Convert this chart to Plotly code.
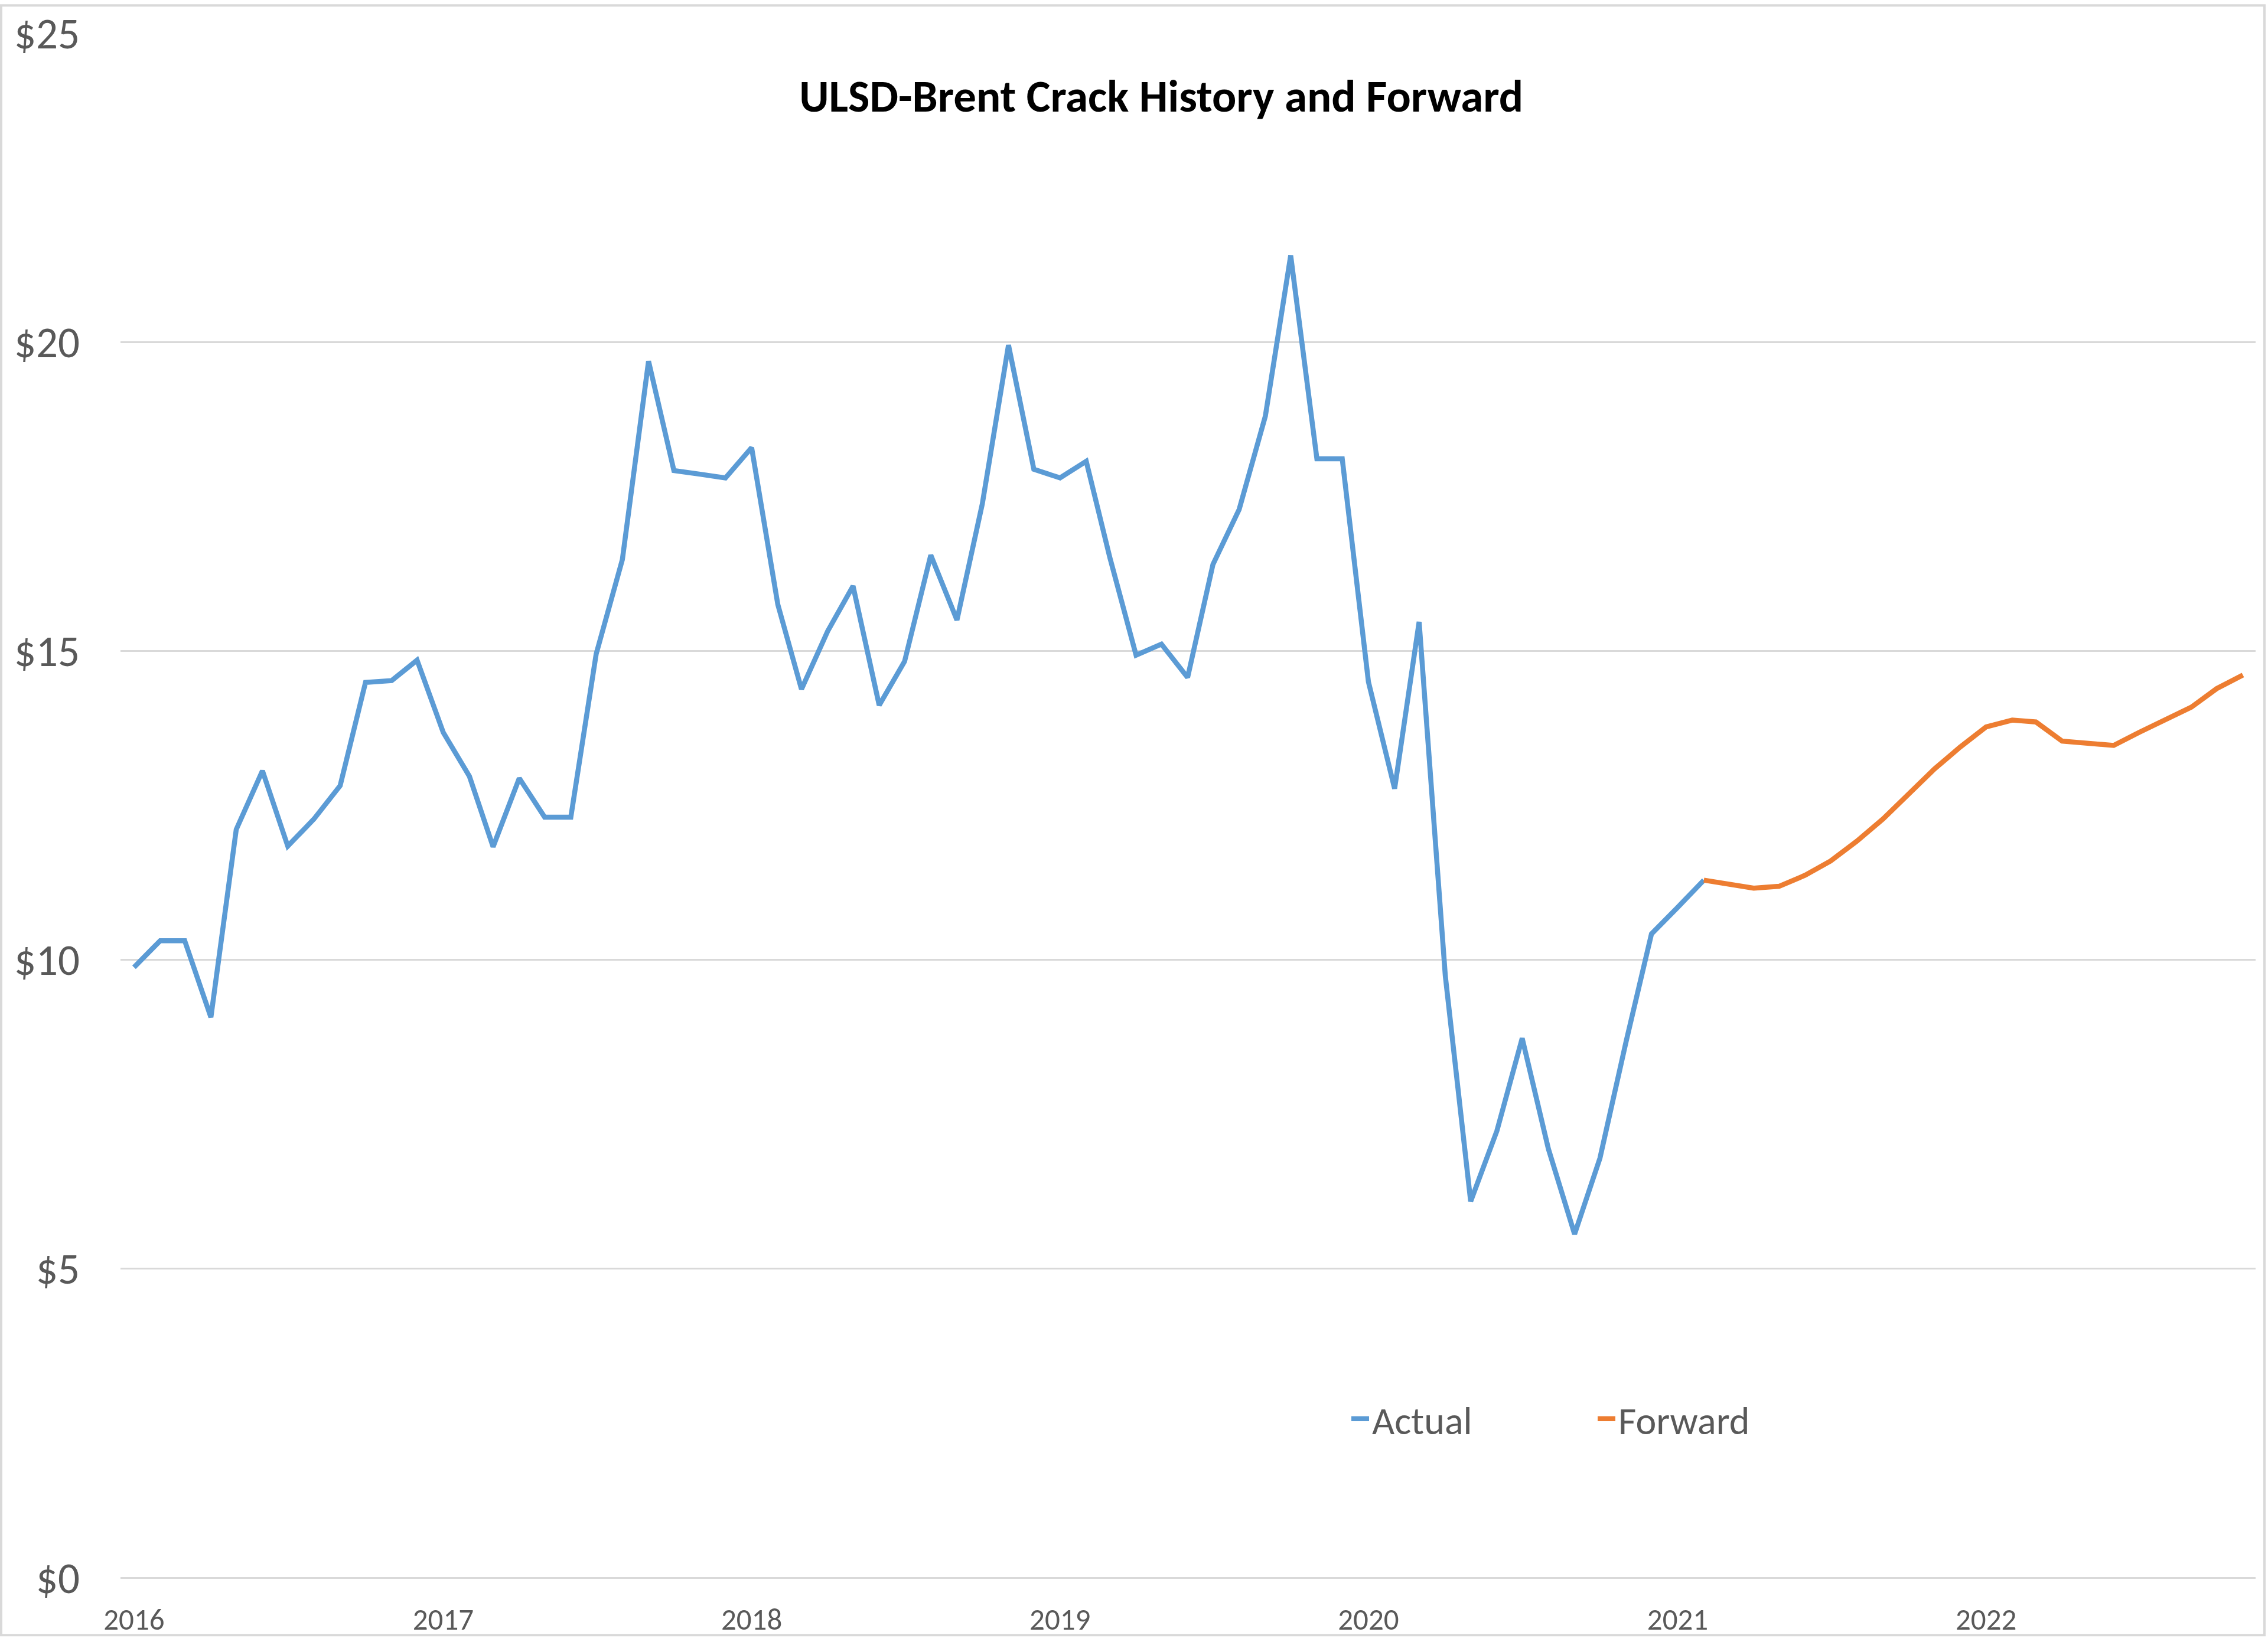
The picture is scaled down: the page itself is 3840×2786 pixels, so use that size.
import pandas as pd
import plotly.graph_objects as go

# ---- data ----
actual_months = pd.date_range("2016-01-01", "2021-02-01", freq="MS")
actual_values = [
    9.88, 10.31, 10.31, 9.07, 12.11, 13.06, 11.84, 12.28, 12.82, 14.49, 14.52, 14.85,
    13.68, 12.97, 11.83, 12.94, 12.31, 12.31, 14.95, 16.48, 19.69, 17.92, 17.86, 17.80,
    18.29, 15.75, 14.38, 15.32, 16.05, 14.12, 14.83, 16.55, 15.50, 17.38, 19.95, 17.94,
    17.80, 18.07, 16.51, 14.93, 15.11, 14.57, 16.40, 17.29, 18.80, 21.40, 18.11, 18.11,
    14.50, 12.77, 15.47, 9.74, 6.09, 7.23, 8.73, 6.94, 5.56, 6.79, 8.68, 10.42,
    10.85, 11.29,
]

forward_months = pd.date_range("2021-02-01", "2022-11-01", freq="MS")
forward_values = [
    11.29, 11.22, 11.16, 11.19, 11.37, 11.60, 11.92, 12.28, 12.68, 13.09, 13.44,
    13.77, 13.88, 13.85, 13.54, 13.50, 13.47, 13.68, 13.88, 14.09, 14.39, 14.61,
]

y_ticks = [0, 5, 10, 15, 20, 25]
y_tick_labels = ["$0", "$5", "$10", "$15", "$20", "$25"]

title_text = "ULSD-Brent Crack History and Forward"

# ---- styling ----
FONT = "Carlito, Lato, sans-serif"
BLUE = "#5B9BD5"
ORANGE = "#ED7D31"
GRID = "#D9D9D9"
TEXT = "#595959"

W, H = 3840, 2786
ML, MR, MT, MB = 204, 21, 49, 103
PW, PH = W - ML - MR, H - MT - MB

fig = go.Figure()
fig.add_trace(go.Scatter(
    x=actual_months, y=actual_values, mode="lines", name="Actual",
    line=dict(color=BLUE, width=8.5), hoverinfo="x+y",
))
fig.add_trace(go.Scatter(
    x=forward_months, y=forward_values, mode="lines", name="Forward",
    line=dict(color=ORANGE, width=8.5), hoverinfo="x+y",
))


def px_x(p):
    return (p - ML) / PW


def px_y(p):
    return (H - MB - p) / PH


fig.update_layout(
    width=W, height=H,
    margin=dict(l=ML, r=MR, t=MT, b=MB, pad=0),
    paper_bgcolor="white", plot_bgcolor="white",
    font=dict(family=FONT, color=TEXT),
    title=dict(
        text="<b>" + title_text + "</b>",
        font=dict(family=FONT, size=77, color="#000000"),
        x=0.512, xanchor="center",
        y=1 - 162 / H, yanchor="middle",
    ),
    xaxis=dict(
        type="date",
        range=["2015-12-16", "2022-11-16"],
        tick0="2016-01-01", dtick="M12", tickformat="%Y",
        showgrid=False, zeroline=False, showline=False,
        ticks="", ticklabelstandoff=36,
        tickfont=dict(family=FONT, size=51, color=TEXT),
    ),
    yaxis=dict(
        range=[0, 25],
        tickvals=y_ticks, ticktext=y_tick_labels,
        showgrid=True, gridcolor=GRID, gridwidth=3,
        zeroline=True, zerolinecolor=GRID, zerolinewidth=3,
        showline=False, ticks="", ticklabelstandoff=68,
        tickfont=dict(family=FONT, size=73, color=TEXT),
    ),
    legend=dict(
        orientation="h",
        x=px_x(2283), xanchor="left",
        y=px_y(2412), yanchor="middle",
        font=dict(family=FONT, size=66, color=TEXT),
        bgcolor="rgba(0,0,0,0)",
        entrywidth=372, entrywidthmode="pixels",
        itemwidth=30,
    ),
    showlegend=True,
    shapes=[dict(
        type="rect", xref="paper", yref="paper",
        x0=px_x(2), x1=px_x(3834), y0=px_y(2781), y1=px_y(2),
        line=dict(color=GRID, width=4), fillcolor="rgba(0,0,0,0)", layer="below",
    )],
)

fig.write_html(
    "out.html",
    config={"displayModeBar": False},
    post_script="document.body.style.margin='0';",
)
